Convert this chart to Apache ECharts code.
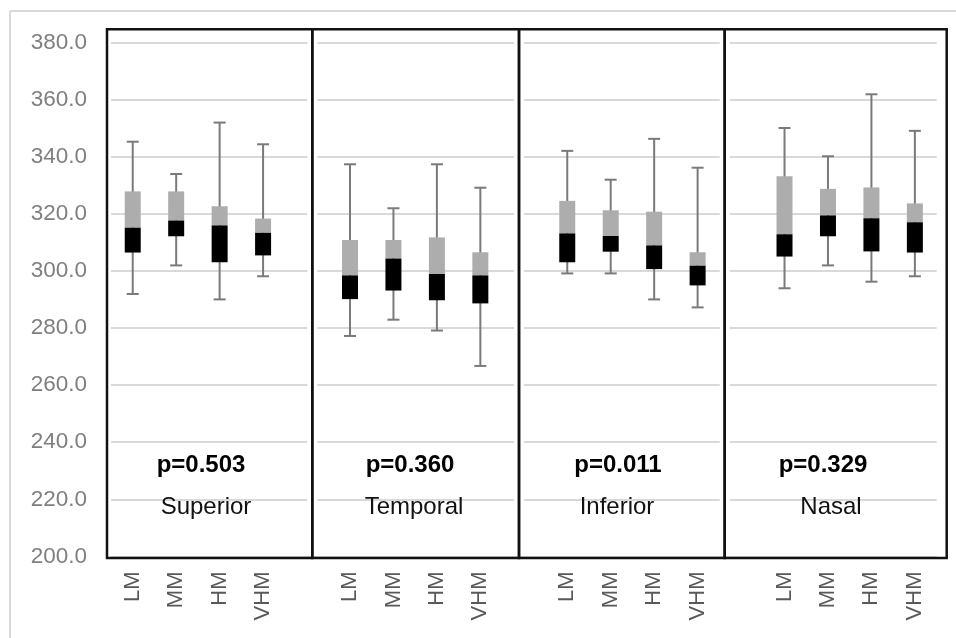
<!DOCTYPE html>
<html>
<head>
<meta charset="utf-8">
<script src="https://cdn.jsdelivr.net/npm/echarts@6/dist/echarts.min.js"></script>
<style>
html,body{margin:0;padding:0;background:#fff;}
#chart{width:956px;height:638px;}
</style>
</head>
<body>
<div id="chart"></div>
<script>
// ---- data ----
const categories = ['LM','MM','HM','VHM','', 'LM','MM','HM','VHM','', 'LM','MM','HM','VHM','', 'LM','MM','HM','VHM'];
const whiskerHigh = [345.2, 333.9, 351.9, 344.3, null, 337.3, 321.9, 337.3, 329.1, null, 342.0, 331.9, 346.2, 336.1, null, 350.0, 340.1, 361.8, 349.0];
const q3Values    = [327.8, 327.8, 322.6, 318.3, null, 310.8, 310.8, 311.7, 306.5, null, 324.5, 321.2, 320.7, 306.5, null, 333.1, 328.7, 329.2, 323.6];
const medianValues= [315.1, 317.6, 315.9, 313.3, null, 298.4, 304.3, 298.9, 298.4, null, 313.1, 312.2, 308.9, 301.8, null, 312.8, 319.4, 318.4, 317.0];
const q1Values    = [306.4, 312.1, 303.0, 305.4, null, 290.1, 293.1, 289.7, 288.6, null, 303.0, 306.7, 300.6, 294.9, null, 305.0, 312.1, 306.8, 306.4];
const whiskerLow  = [291.9, 301.9, 290.0, 298.1, null, 277.2, 282.9, 279.1, 266.7, null, 299.1, 299.1, 290.0, 287.2, null, 293.9, 301.9, 296.2, 298.1];
const regionNames = ['Superior', 'Temporal', 'Inferior', 'Nasal'];
const pLabels = ['p=0.503', 'p=0.360', 'p=0.011', 'p=0.329'];
const yTicks = {min: 200, max: 380, interval: 20};

// ---- layout (pixels) ----
const panelEdges = [107, 312.3, 519, 724.7, 946.7];
const panelTop = 29.3, panelBottom = 558;
const pTextX = [201, 410, 618, 823];
const nameTextX = [206, 414, 617, 831];
const pTextY = 465, nameTextY = 507;
const FONT = '"Liberation Sans", Arial, sans-serif';

const boxData = [];
categories.forEach((c, i) => {
  if (medianValues[i] == null) return;
  boxData.push([i, whiskerLow[i], q1Values[i], medianValues[i], q3Values[i], whiskerHigh[i]]);
});

function renderBox(params, api) {
  const x = api.value(0);
  const pLow = api.coord([x, api.value(1)]);
  const pQ1 = api.coord([x, api.value(2)]);
  const pMed = api.coord([x, api.value(3)]);
  const pQ3 = api.coord([x, api.value(4)]);
  const pHigh = api.coord([x, api.value(5)]);
  const cx = pMed[0];
  const bw = 16, cw = 12;
  const wStyle = {stroke: '#7a7a7a', lineWidth: 2};
  return {
    type: 'group',
    children: [
      {type: 'line', shape: {x1: cx, y1: pHigh[1], x2: cx, y2: pLow[1]}, style: wStyle},
      {type: 'line', shape: {x1: cx - cw/2, y1: pHigh[1], x2: cx + cw/2, y2: pHigh[1]}, style: wStyle},
      {type: 'line', shape: {x1: cx - cw/2, y1: pLow[1], x2: cx + cw/2, y2: pLow[1]}, style: wStyle},
      {type: 'rect', shape: {x: cx - bw/2, y: pQ3[1], width: bw, height: pMed[1] - pQ3[1]}, style: {fill: '#adadad'}},
      {type: 'rect', shape: {x: cx - bw/2, y: pMed[1], width: bw, height: pQ1[1] - pMed[1]}, style: {fill: '#000000'}}
    ]
  };
}

const graphics = [];
// outer light frame (top and left)
graphics.push({type: 'line', shape: {x1: 10, y1: 11, x2: 956, y2: 11}, style: {stroke: '#d9d9d9', lineWidth: 2}, z: 1});
graphics.push({type: 'line', shape: {x1: 10, y1: 11, x2: 10, y2: 638}, style: {stroke: '#d9d9d9', lineWidth: 2}, z: 1});
// gridline gaps around dividers
for (let k = 1; k < 4; k++) {
  graphics.push({type: 'rect', shape: {x: panelEdges[k] - 5, y: 32, width: 10, height: 522}, style: {fill: '#ffffff'}, z: 5});
}
// panel frames and texts
for (let k = 0; k < 4; k++) {
  graphics.push({type: 'rect', shape: {x: panelEdges[k], y: panelTop, width: panelEdges[k+1] - panelEdges[k], height: panelBottom - panelTop},
    style: {fill: null, stroke: '#111111', lineWidth: 2.5}, z: 20});
  graphics.push({type: 'text', x: pTextX[k], y: pTextY, style: {text: pLabels[k], fill: '#000', font: 'bold 24px ' + FONT, textAlign: 'center', textVerticalAlign: 'middle'}, z: 20});
  graphics.push({type: 'text', x: nameTextX[k], y: nameTextY, style: {text: regionNames[k], fill: '#111', font: '24px ' + FONT, textAlign: 'center', textVerticalAlign: 'middle'}, z: 20});
}

const chart = echarts.init(document.getElementById('chart'), null, {renderer: 'canvas'});
chart.setOption({
  animation: false,
  backgroundColor: '#ffffff',
  grid: {left: 111, right: 19.4, top: 42.3, bottom: 81.5, containLabel: false},
  xAxis: {
    type: 'category',
    data: categories,
    boundaryGap: true,
    axisLine: {show: false},
    axisTick: {show: false},
    axisLabel: {rotate: 90, interval: 0, fontSize: 22, color: '#595959', fontFamily: FONT, margin: 15},
    splitLine: {show: false}
  },
  yAxis: {
    type: 'value',
    min: yTicks.min, max: yTicks.max, interval: yTicks.interval,
    axisLine: {show: false},
    axisTick: {show: false},
    axisLabel: {formatter: v => v.toFixed(1), fontSize: 22.5, color: '#7f7f7f', fontFamily: FONT, margin: 24},
    splitLine: {lineStyle: {color: '#d9d9d9', width: 2}}
  },
  graphic: graphics,
  series: [{
    type: 'custom',
    renderItem: renderBox,
    data: boxData,
    encode: {x: 0, y: [1, 2, 3, 4, 5]},
    z: 10
  }]
});
</script>
</body>
</html>
